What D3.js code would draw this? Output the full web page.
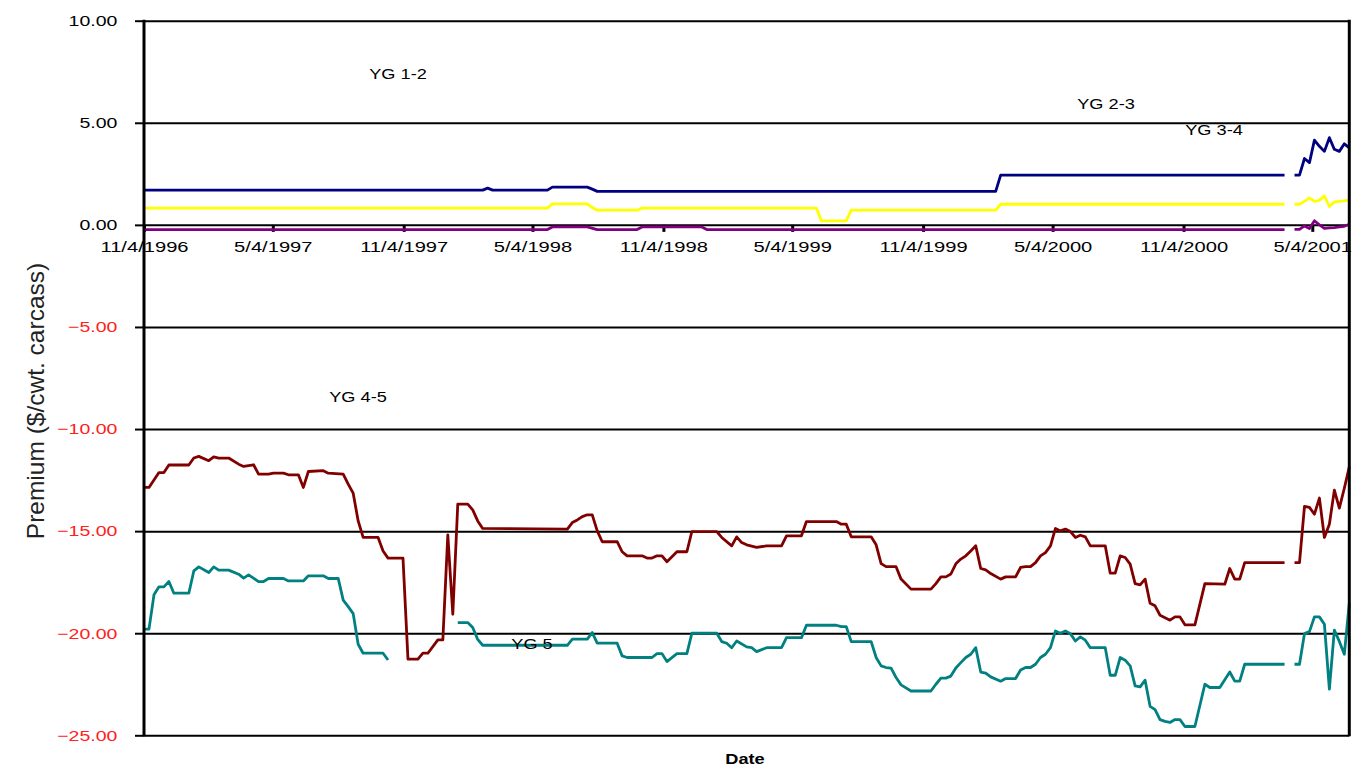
<!DOCTYPE html>
<html>
<head>
<meta charset="utf-8">
<script src="https://cdn.jsdelivr.net/npm/d3@7"></script>
<style>
  body { margin: 0; background: #fff; }
  svg { display: block; font-family: "Liberation Sans", Arial, sans-serif; }
</style>
</head>
<body>
<svg id="chart" width="1372" height="776"></svg>
<script>
// weekly series, starting 11/4/1996; points are [week number, premium]; null = missing week
const startDate = new Date(1996, 10, 4);
const lastWeek = 242;

const tickDates = ["1996-11-04", "1997-05-04", "1997-11-04", "1998-05-04", "1998-11-04",
  "1999-05-04", "1999-11-04", "2000-05-04", "2000-11-04", "2001-05-04"];
const yTicks = [10, 5, 0, -5, -10, -15, -20, -25];

const yg12 = [[0,1.70],[68,1.70],[69,1.80],[70,1.70],[81,1.70],[82,1.85],[89,1.85],[90,1.75],[91,1.64],
  [171,1.64],[172,2.44],[229,2.44],[230,null],[231,2.44],[232,2.44],[233,3.25],[234,3.05],[235,4.15],
  [236,3.85],[237,3.6],[238,4.27],[239,3.7],[240,3.6],[241,3.97],[242,3.77]];

const yg23 = [[0,0.82],[81,0.82],[82,1.03],[89,1.03],[90,0.85],[91,0.72],[99,0.72],[100,0.82],[135,0.82],
  [136,0.2],[141,0.2],[142,0.72],[171,0.72],[172,1.01],[229,1.01],[230,null],[231,1.01],[232,1.01],
  [233,1.15],[234,1.32],[235,1.15],[236,1.2],[237,1.42],[238,0.9],[239,1.12],[240,1.15],[241,1.18],[242,1.23]];

const yg34 = [[0,-0.23],[81,-0.23],[82,-0.1],[89,-0.1],[91,-0.23],[99,-0.23],[100,-0.1],[112,-0.1],
  [113,-0.23],[229,-0.23],[230,null],[231,-0.22],[232,-0.22],[233,-0.05],[234,-0.18],[235,0.2],[236,0.0],
  [237,-0.17],[238,-0.15],[239,-0.13],[240,-0.1],[241,-0.07],[242,0.03]];

const yg45 = [[0,-12.86],[1,-12.86],[2,-12.5],[3,-12.13],[4,-12.13],[5,-11.76],[9,-11.76],[10,-11.42],
  [11,-11.34],[13,-11.55],[14,-11.36],[15,-11.42],[17,-11.42],[19,-11.72],[20,-11.83],[22,-11.75],
  [23,-12.21],[25,-12.21],[26,-12.16],[28,-12.16],[29,-12.24],[31,-12.24],[32,-12.86],[33,-12.08],
  [36,-12.04],[37,-12.16],[40,-12.21],[41,-12.7],[42,-13.14],[43,-14.5],[44,-15.31],[47,-15.31],
  [48,-15.97],[49,-16.32],[52,-16.32],[53,-21.27],[55,-21.27],[56,-20.98],[57,-20.98],[59,-20.33],
  [60,-20.33],[61,-15.18],[62,-19.07],[63,-13.68],[65,-13.68],[66,-13.96],[67,-14.5],[68,-14.87],
  [85,-14.9],[86,-14.58],[87,-14.45],[88,-14.29],[89,-14.2],[90,-14.2],[91,-14.99],[92,-15.52],
  [95,-15.52],[96,-16.01],[97,-16.21],[100,-16.21],[101,-16.32],[102,-16.32],[103,-16.21],[104,-16.21],
  [105,-16.5],[107,-16.01],[109,-16.01],[110,-15.02],[115,-15.02],[116,-15.31],[118,-15.72],[119,-15.28],
  [120,-15.56],[121,-15.67],[123,-15.8],[125,-15.72],[128,-15.72],[129,-15.23],[132,-15.23],[133,-14.53],
  [139,-14.53],[140,-14.66],[141,-14.66],[142,-15.28],[146,-15.28],[147,-15.67],[148,-16.59],[149,-16.74],
  [151,-16.74],[152,-17.35],[154,-17.84],[158,-17.84],[159,-17.57],[160,-17.24],[161,-17.24],[162,-17.1],
  [163,-16.6],[164,-16.37],[165,-16.21],[166,-15.97],[167,-15.72],[168,-16.83],[169,-16.9],[170,-17.08],
  [172,-17.35],[173,-17.24],[175,-17.24],[176,-16.78],[177,-16.74],[178,-16.74],[179,-16.54],[180,-16.21],
  [181,-16.05],[182,-15.72],[183,-14.87],[184,-14.99],[185,-14.9],[186,-15.02],[187,-15.31],[188,-15.2],
  [189,-15.28],[190,-15.72],[193,-15.72],[194,-17.06],[195,-17.06],[196,-16.21],[197,-16.29],[198,-16.62],
  [199,-17.57],[200,-17.63],[201,-17.35],[202,-18.53],[203,-18.66],[204,-19.12],[205,-19.24],[206,-19.36],
  [207,-19.2],[208,-19.2],[209,-19.59],[211,-19.59],[213,-17.57],[217,-17.6],[218,-16.83],[219,-17.35],
  [220,-17.35],[221,-16.54],[229,-16.54],[230,null],[231,-16.54],[232,-16.54],[233,-13.79],[234,-13.84],
  [235,-14.17],[236,-13.38],[237,-15.31],[238,-14.66],[239,-12.99],[240,-13.87],[241,-12.9],[242,-11.85]];

const yg5 = [[0,-19.8],[1,-19.8],[2,-18.12],[3,-17.73],[4,-17.73],[5,-17.47],[6,-18.04],[9,-18.04],
  [10,-16.95],[11,-16.75],[13,-17.03],[14,-16.75],[15,-16.91],[17,-16.91],[19,-17.11],[20,-17.3],
  [21,-17.14],[23,-17.47],[24,-17.47],[25,-17.32],[28,-17.32],[29,-17.44],[32,-17.44],[33,-17.19],
  [36,-17.19],[37,-17.32],[39,-17.32],[40,-18.38],[41,-18.7],[42,-19.04],[43,-20.54],[44,-20.98],
  [48,-20.98],[49,-21.31],[56,null],[63,-19.48],[65,-19.48],[66,-19.72],[67,-20.3],[68,-20.59],
  [85,-20.59],[86,-20.29],[89,-20.29],[90,-19.97],[91,-20.49],[95,-20.49],[96,-21.11],[97,-21.19],
  [102,-21.19],[103,-21.0],[104,-21.0],[105,-21.39],[107,-21.0],[109,-21.0],[110,-20.0],[115,-20.0],
  [116,-20.41],[117,-20.49],[118,-20.71],[119,-20.38],[121,-20.67],[122,-20.71],[123,-20.9],[125,-20.71],
  [128,-20.71],[129,-20.22],[132,-20.22],[133,-19.61],[139,-19.61],[140,-19.68],[141,-19.68],[142,-20.41],
  [146,-20.41],[147,-21.19],[148,-21.6],[149,-21.68],[150,-21.71],[151,-22.17],[152,-22.53],[154,-22.83],
  [158,-22.83],[159,-22.5],[160,-22.2],[161,-22.2],[162,-22.1],[163,-21.7],[164,-21.44],[165,-21.19],
  [166,-21.03],[167,-20.71],[168,-21.9],[169,-21.95],[170,-22.14],[172,-22.35],[173,-22.22],[175,-22.22],
  [176,-21.8],[177,-21.68],[178,-21.68],[179,-21.52],[180,-21.19],[181,-21.03],[182,-20.71],[183,-19.89],
  [184,-20.0],[185,-19.89],[186,-20.02],[187,-20.38],[188,-20.18],[189,-20.34],[190,-20.71],[193,-20.71],
  [194,-22.06],[195,-22.06],[196,-21.19],[197,-21.32],[198,-21.6],[199,-22.58],[200,-22.63],[201,-22.3],
  [202,-23.58],[203,-23.74],[204,-24.23],[205,-24.32],[206,-24.37],[207,-24.23],[208,-24.23],[209,-24.57],
  [211,-24.57],[213,-22.5],[214,-22.66],[216,-22.66],[218,-21.9],[219,-22.35],[220,-22.35],[221,-21.52],
  [229,-21.52],[230,null],[231,-21.52],[232,-21.52],[233,-20.02],[234,-19.92],[235,-19.2],[236,-19.2],
  [237,-19.56],[238,-22.74],[239,-19.85],[240,-20.4],[241,-21.03],[242,-18.53]];

const seriesNames = ["YG 1-2", "YG 2-3", "YG 3-4", "YG 4-5", "YG 5"];
const seriesData = [yg12, yg23, yg34, yg45, yg5];
const seriesColors = ["#000080", "#ffff00", "#800080", "#800000", "#008080"];

// label spots (px), text is stretched wide like the original picture
const labelSpots = [[398, 78.5], [1106, 108.5], [1214, 135], [358, 402], [532, 648.5]];
const stretch = "scale(1.3,1)";

const svg = d3.select("#chart");
const plotLeft = 144, plotRight = 1349.3, plotTop = 20.7, plotBottom = 735.3;

const x = d3.scaleTime()
  .domain([startDate, d3.timeDay.offset(startDate, lastWeek * 7)])
  .range([plotLeft, plotRight]);
const y = d3.scaleLinear().domain([-25, 10]).range([plotBottom, plotTop]);
const weekDate = (w) => d3.timeDay.offset(startDate, w * 7);

// horizontal grid
svg.append("g")
  .attr("transform", `translate(${plotLeft},0)`)
  .call(d3.axisLeft(y).tickValues(yTicks).tickSize(-(plotRight - plotLeft)).tickFormat(""))
  .call(g => g.select(".domain").remove())
  .call(g => g.selectAll("line").attr("stroke", "#000").attr("stroke-width", 2));

// x axis sits on the zero line
const parseDate = d3.timeParse("%Y-%m-%d");
svg.append("g")
  .attr("transform", `translate(0,${y(0)})`)
  .call(d3.axisBottom(x)
    .tickValues(tickDates.map(parseDate))
    .tickSize(7)
    .tickFormat(d3.timeFormat("%-m/%-d/%Y")))
  .call(g => g.select(".domain").remove())
  .call(g => g.selectAll("line").attr("stroke", "#000").attr("stroke-width", 3))
  .call(g => g.selectAll("text")
    .attr("y", 27.4).attr("dy", 0)
    .attr("transform", stretch)
    .attr("font-size", 15.5)
    .attr("font-family", null)
    .attr("fill", "#000"));

// lines
const line = d3.line()
  .defined(d => d[1] != null)
  .x(d => x(weekDate(d[0])))
  .y(d => y(d[1]));

svg.append("g")
  .selectAll("path")
  .data(seriesData)
  .join("path")
  .attr("fill", "none")
  .attr("stroke", (d, i) => seriesColors[i])
  .attr("stroke-width", 2.8)
  .attr("stroke-linejoin", "round")
  .attr("d", line);

// y axis with ticks to the left
svg.append("g")
  .attr("transform", `translate(${plotLeft},0)`)
  .call(d3.axisLeft(y).tickValues(yTicks).tickSize(9).tickFormat(d3.format(".2f")))
  .call(g => g.select(".domain").remove())
  .call(g => g.selectAll("line").attr("stroke", "#000").attr("stroke-width", 2))
  .call(g => g.selectAll("text")
    .attr("x", -20.5)
    .attr("transform", stretch)
    .attr("font-size", 15)
    .attr("font-family", null)
    .attr("fill", d => d < 0 ? "#ff2020" : "#000"));

// frame: left axis line and right border
svg.append("line").attr("x1", plotLeft).attr("x2", plotLeft).attr("y1", plotTop - 1).attr("y2", plotBottom + 1)
  .attr("stroke", "#000").attr("stroke-width", 3);
svg.append("line").attr("x1", plotRight).attr("x2", plotRight).attr("y1", plotTop - 1).attr("y2", plotBottom + 1)
  .attr("stroke", "#000").attr("stroke-width", 3);

// series labels
svg.append("g")
  .selectAll("text")
  .data(seriesNames)
  .join("text")
  .attr("transform", (d, i) => `translate(${labelSpots[i][0]},${labelSpots[i][1]}) ${stretch}`)
  .attr("text-anchor", "middle")
  .attr("font-size", 14)
  .attr("fill", "#000")
  .text(d => d);

// axis titles
svg.append("text")
  .attr("transform", "translate(44,401) rotate(-90)")
  .attr("text-anchor", "middle")
  .attr("font-size", 24.5)
  .attr("fill", "#222")
  .text("Premium ($/cwt. carcass)");

svg.append("text")
  .attr("transform", `translate(745,764.3) ${stretch}`)
  .attr("text-anchor", "middle")
  .attr("font-size", 14)
  .attr("font-weight", "bold")
  .attr("fill", "#000")
  .text("Date");
</script>
</body>
</html>
